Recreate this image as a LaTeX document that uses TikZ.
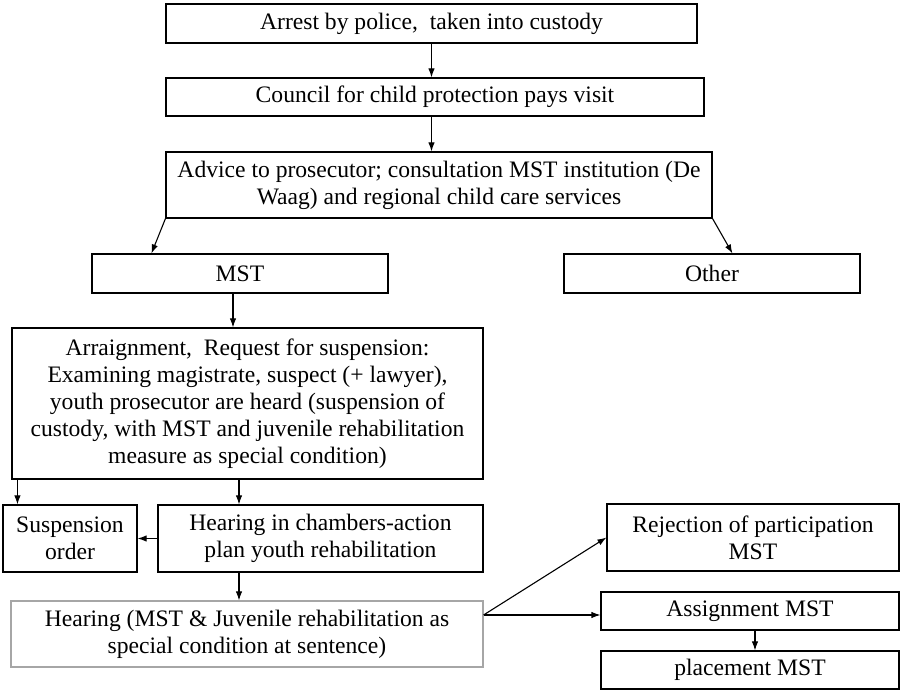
\documentclass[tikz,border=0pt]{standalone}
\usepackage{fontspec}
\setmainfont{Liberation Serif}
\usetikzlibrary{arrows.meta}
\newcommand{\flowfont}{\fontsize{11.8}{13.5}\selectfont}

\begin{document}
\begin{tikzpicture}[x=0.5pt,y=-0.5pt,
    box/.style={draw, line width=0.55pt, align=center, inner sep=0pt, font=\flowfont},
    greybox/.style={box, draw=black!35},
    >={Latex[length=4.5pt,width=3.2pt]}, line width=0.55pt]
        \useasboundingbox (0,0) rectangle (902,690);
        \node[box, minimum width=265.5pt, minimum height=19.5pt] (arrest) at (431.5,23.5) {Arrest by police,~ taken into custody};
        \node[box, minimum width=269pt, minimum height=19pt] (council) at (435,97) {Council for child protection pays visit};
        \node[box, minimum width=273pt, minimum height=33pt] (advice) at (439,185) {Advice to prosecutor; consultation MST institution (De\\Waag) and regional child care services};
        \node[box, minimum width=148pt, minimum height=19.5pt] (mst) at (240,273.5) {MST};
        \node[box, minimum width=148pt, minimum height=19.5pt] (other) at (712,273.5) {Other};
        \node[box, minimum width=235.5pt, minimum height=75.5pt] (arraign) at (247.5,403.5) {Arraignment,~ Request for suspension:\\Examining magistrate, suspect (+ lawyer),\\youth prosecutor are heard (suspension of\\custody, with MST and juvenile rehabilitation\\measure as special condition)};
        \node[box, minimum width=67pt, minimum height=33.5pt] (susp) at (70,538.5) {Suspension\\order};
        \node[box, minimum width=162.5pt, minimum height=33.5pt] (chambers) at (320.5,538.5) {Hearing in chambers-action\\plan youth rehabilitation};
        \node[greybox, minimum width=236pt, minimum height=33pt] (hearing) at (247,634) {Hearing (MST \& Juvenile rehabilitation as\\special condition at sentence)};
        \node[box, minimum width=146pt, minimum height=33.5pt] (reject) at (753,537.5) {Rejection of participation\\MST};
        \node[box, minimum width=149pt, minimum height=19pt] (assign) at (750,611) {Assignment MST};
        \node[box, minimum width=149pt, minimum height=19pt] (place) at (750,670) {placement MST};

        \draw[->] (arrest.south) -- (arrest.south |- council.north);
        \draw[->] (arrest.south |- council.south) -- (arrest.south |- advice.north);
        \draw[->] (advice.south west) -- ([xshift=30pt]mst.north west);
        \draw[->] (advice.south east) -- ([xshift=84.5pt]other.north west);
        \draw[->] ([xshift=-3.5pt]mst.south) -- ([xshift=-3.5pt]mst.south |- arraign.north);
        \draw[->] ([xshift=3pt]arraign.south west) -- ([xshift=3pt]arraign.south west |- susp.north);
        \draw[->] ([xshift=-4.25pt]arraign.south) -- ([xshift=-4.25pt]arraign.south |- chambers.north);
        \draw[->] (chambers.west) -- (susp.east);
        \draw[->] ([xshift=-40.75pt]chambers.south) -- ([xshift=-40.75pt]chambers.south |- hearing.north);
        \draw[->] ([yshift=9.5pt]hearing.east) -- (reject.west);
        \draw[->] ([yshift=9.5pt]hearing.east) -- ([yshift=9.5pt]hearing.east -| assign.west);
        \draw[->] ([xshift=2.5pt]assign.south) -- ([xshift=2.5pt]assign.south |- place.north);
\end{tikzpicture}
\end{document}
